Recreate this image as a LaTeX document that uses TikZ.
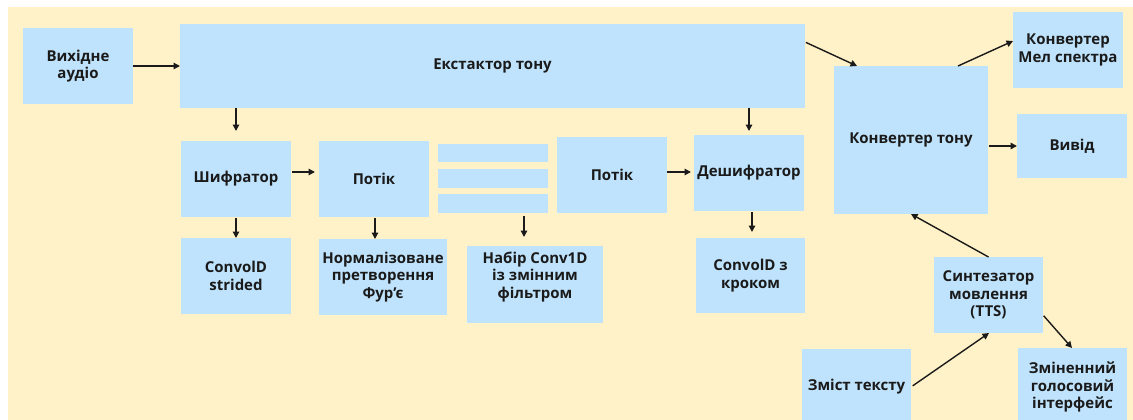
\documentclass[tikz,border=0pt]{standalone}
\usepackage{fontspec}
\setmainfont{Open Sans}
\usetikzlibrary{arrows.meta}
\definecolor{paper}{HTML}{FFF2C8}
\definecolor{boxblue}{HTML}{BFE3FC}
\definecolor{ink}{HTML}{1A1A1A}
\tikzset{
  blk/.style={fill=boxblue, draw=none, inner sep=0pt, outer sep=0pt, align=center,
    font=\bfseries\fontsize{15}{17.5}\selectfont, text=ink},
  lbl/.style={inner sep=0pt, align=center, font=\bfseries\fontsize{15}{17.5}\selectfont, text=ink},
  arr/.style={draw=ink, line width=1.4pt, -{Triangle[length=6.5pt,width=6.5pt]}},
}
\begin{document}
\begin{tikzpicture}[x=1pt, y=-1pt]
  % canvas
  \clip (0,0) rectangle (1133,420);
  \fill[white] (0,0) rectangle (1133,420);
  \fill[paper] (8,7) rectangle (1133,420);

  % blocks
  \node[blk, minimum width=110pt, minimum height=76pt] (src) at (78,66) {Вихідне\\аудіо};
  \node[blk, minimum width=625pt, minimum height=84pt] (ext) at (492.5,66) {Екстактор тону};
  \node[blk, minimum width=110pt, minimum height=76pt] (enc) at (236,179) {Шифратор};
  \node[blk, minimum width=110pt, minimum height=76pt] (flowa) at (374,179) {Потік};
  \node[blk, minimum width=110pt, minimum height=18pt] (bara) at (493,153) {};
  \node[blk, minimum width=110pt, minimum height=19pt] (barb) at (493,178.5) {};
  \node[blk, minimum width=110pt, minimum height=19pt] (barc) at (493,203.5) {};
  \node[blk, minimum width=110pt, minimum height=76pt] (flowb) at (612,175) {Потік};
  \node[blk, minimum width=110pt, minimum height=76pt] (dec) at (749,173) {Дешифратор};
  \node[blk, minimum width=110pt, minimum height=76pt] (conva) at (236,276) {ConvolD\\strided};
  \node[blk, minimum width=128pt, minimum height=76pt] (norm) at (383,277) {Нормалізоване\\претворення\\Фур’є};
  \node[blk, minimum width=136pt, minimum height=77pt] (bank) at (535,284.5) {};
  \node[lbl] (banktext) at (535,277) {Набір Conv1D\\із змінним\\фільтром};
  \node[blk, minimum width=109pt, minimum height=75pt] (convb) at (750.5,275.5) {ConvolD з\\кроком};
  \node[blk, minimum width=154pt, minimum height=148pt] (pconv) at (911,140) {Конвертер тону};
  \node[blk, minimum width=110pt, minimum height=76pt] (mel) at (1068,50) {Конвертер\\Мел спектра};
  \node[blk, minimum width=110pt, minimum height=64pt] (out) at (1072,146) {Вивід};
  \node[blk, minimum width=109pt, minimum height=76pt] (tts) at (988.5,295) {Синтезатор\\мовлення\\(TTS)};
  \node[blk, minimum width=109pt, minimum height=76pt] (txt) at (856.5,387) {Зміст тексту};
  \node[blk, minimum width=109pt, minimum height=78pt] (mod) at (1072.5,387) {Зміненний\\голосовий\\інтерфейс};

  % connectors
  \draw[arr] (src.east) -- (src.east -| ext.west);
  \draw[arr, shorten >=10pt] (ext.south -| enc.north) -- (enc.north);
  \draw[arr, shorten <=1pt, shorten >=4pt] ([yshift=7pt]enc.east) -- ([yshift=7pt]enc.east -| flowa.west);
  \draw[arr, shorten <=1pt] (enc.south) -- (conva.north);
  \draw[arr, shorten <=1pt] ([xshift=1pt]flowa.south) -- ([xshift=1pt]flowa.south |- norm.north);
  \draw[arr, shorten <=3pt, shorten >=9pt] ([xshift=31pt]barc.south) -- ([xshift=31pt]barc.south |- bank.north);
  \draw[arr, shorten >=3pt] ([yshift=3pt]flowb.east) -- ([yshift=3pt]flowb.east -| dec.west);
  \draw[arr, shorten >=4pt] (ext.south -| dec.north) -- (dec.north);
  \draw[arr, shorten <=1pt, shorten >=6pt] ([xshift=3pt]dec.south) -- ([xshift=3pt]dec.south |- convb.north);
  \draw[arr, shorten <=1pt] ([yshift=-18pt]ext.north east) -- ([xshift=23pt]pconv.north west);
  \draw[arr] ([xshift=-30pt]pconv.north east) -- ([yshift=-29pt]mel.north west);
  \draw[arr, shorten <=1pt] (pconv.east |- out.west) -- (out.west);
  \draw[arr] (tts.north) -- ([xshift=77pt]pconv.south west);
  \draw[arr, shorten <=2pt] (txt.east) -- ([xshift=55pt]tts.south west);
  \draw[arr, shorten <=1pt] ([yshift=-58pt]tts.north east) -- ([xshift=54pt]mod.north west);
\end{tikzpicture}
\end{document}
